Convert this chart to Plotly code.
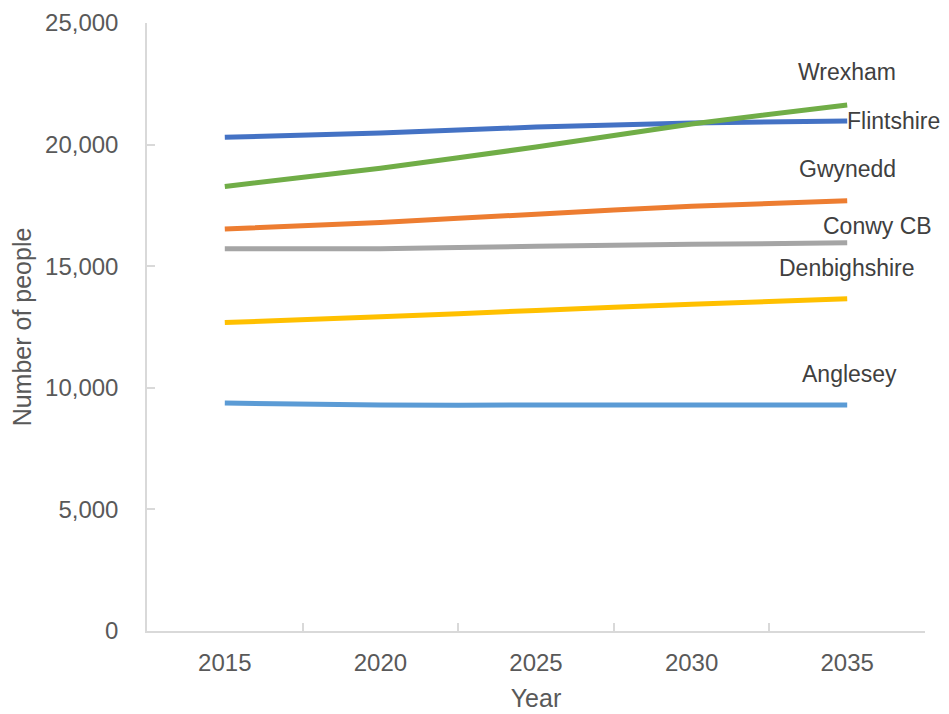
import plotly.graph_objects as go

# projected number of people by local authority
years = ["2015", "2020", "2025", "2030", "2035"]
flintshire = [20300, 20480, 20720, 20890, 20970]
wrexham = [18280, 19030, 19900, 20850, 21630]
gwynedd = [16530, 16800, 17140, 17470, 17690]
conwy = [15720, 15720, 15820, 15900, 15960]
denbighshire = [12680, 12920, 13180, 13440, 13660]
anglesey = [9370, 9290, 9290, 9290, 9290]

series = [
    ("Flintshire", flintshire, "#4472C4"),
    ("Wrexham", wrexham, "#70AD47"),
    ("Gwynedd", gwynedd, "#ED7D31"),
    ("Conwy CB", conwy, "#A5A5A5"),
    ("Denbighshire", denbighshire, "#FFC000"),
    ("Anglesey", anglesey, "#5B9BD5"),
]

# label offsets (pixels) relative to the 2035 end point
label_offsets = {
    "Wrexham": (0, 33, "center"),
    "Flintshire": (-2, 0, "left"),
    "Gwynedd": (0, 32, "center"),
    "Conwy CB": (30, 17, "center"),
    "Denbighshire": (0, 31, "center"),
    "Anglesey": (2, 31, "center"),
}

last = len(years) - 1  # category index of the final year

fig = go.Figure()
for name, vals, col in series:
    fig.add_trace(go.Scatter(
        x=years, y=vals, name=name, mode="lines",
        line=dict(color=col, width=5, shape="spline", smoothing=0.5),
        showlegend=False,
    ))
    dx, dy, anchor = label_offsets[name]
    fig.add_annotation(
        x=last, y=vals[-1], text=name, showarrow=False,
        xanchor=anchor, yanchor="middle", xshift=dx, yshift=dy,
        font=dict(family="Liberation Sans, Arial", size=23, color="#404040"),
    )

tick_font = dict(family="Liberation Sans, Arial", size=24, color="#595959")
title_font = dict(family="Liberation Sans, Arial", size=25, color="#595959")

# page body has an 8px margin, so the figure is sized to fit inside it
fig.update_layout(
    width=941, height=706,
    margin=dict(l=139, r=24, t=15, b=83),
    plot_bgcolor="white", paper_bgcolor="white",
    font=tick_font,
    xaxis=dict(
        type="category", range=[-0.5, 4.5], automargin=False,
        showgrid=False, showline=True, linecolor="#D9D9D9", linewidth=1.5,
        ticks="inside", tickson="boundaries", ticklen=8, tickcolor="#D9D9D9",
        tickwidth=1.5, ticklabelstandoff=9, tickfont=tick_font,
        title=dict(text="Year", font=title_font, standoff=15),
    ),
    yaxis=dict(
        range=[0, 25000], dtick=5000, tickformat=",", automargin=False,
        showgrid=False, zeroline=False, showline=True,
        linecolor="#D9D9D9", linewidth=1.5,
        ticks="inside", ticklen=8, tickcolor="#D9D9D9", tickwidth=1.5,
        ticklabelstandoff=22, tickfont=tick_font,
        title=dict(text="Number of people", font=title_font, standoff=13),
    ),
)

fig.write_html("out.html")
